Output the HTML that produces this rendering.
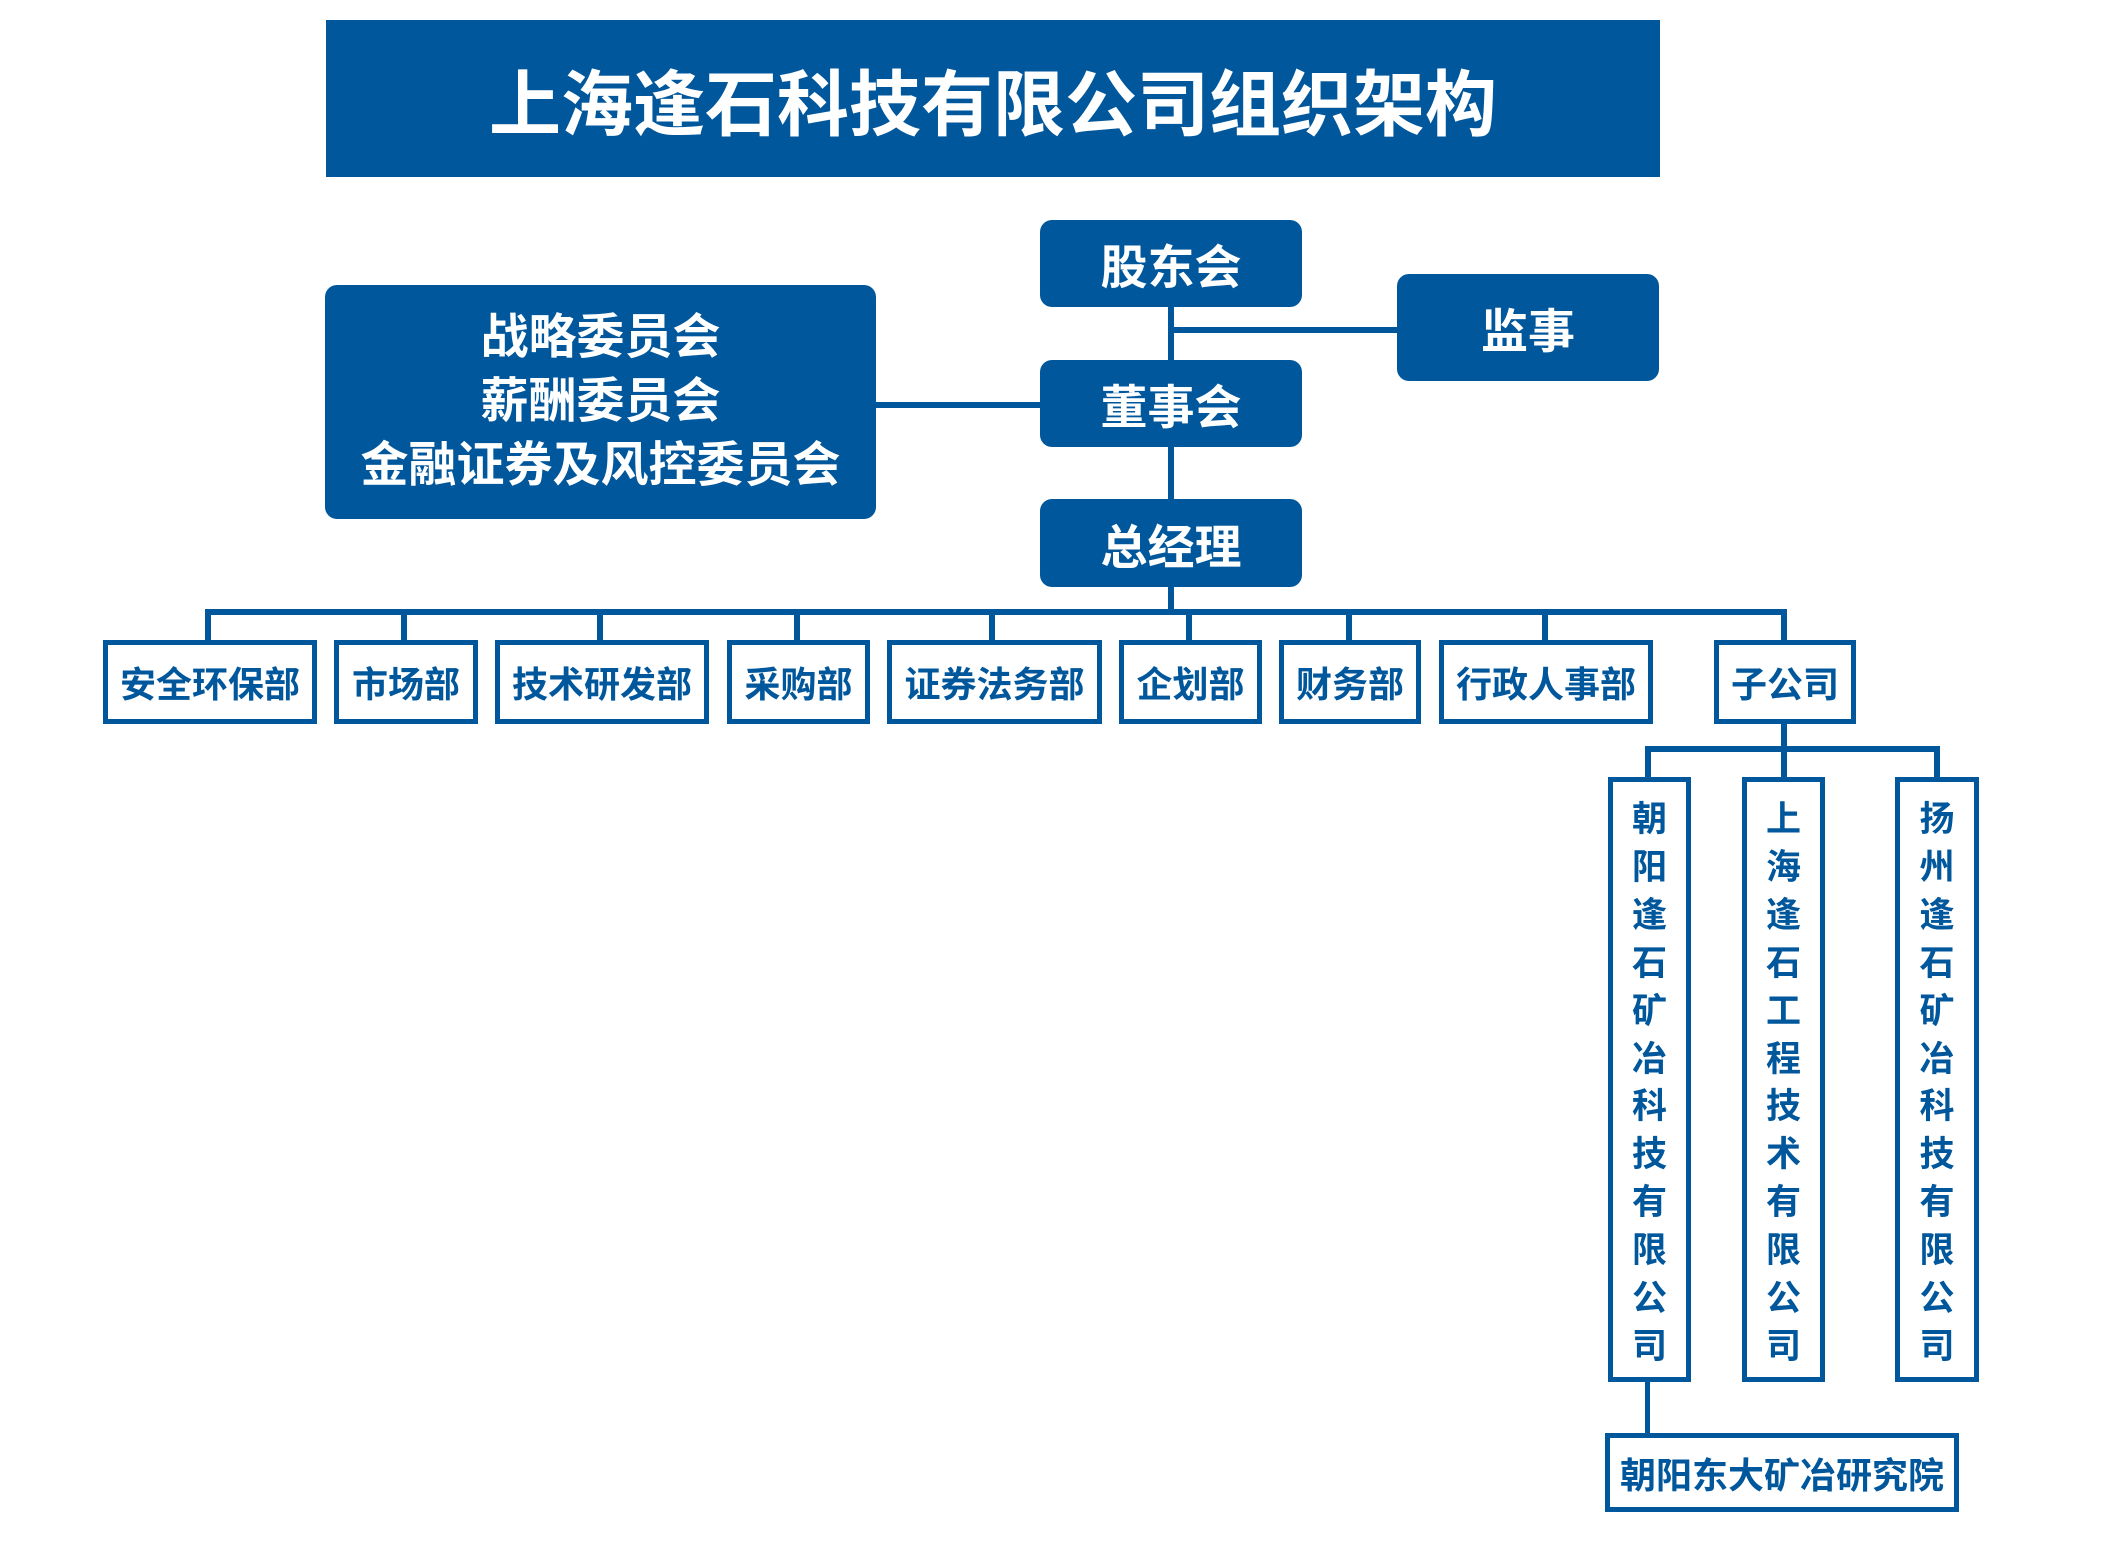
<!DOCTYPE html>
<html><head><meta charset="utf-8"><style>
body{margin:0;width:2104px;height:1549px;background:#fff;position:relative;overflow:hidden;font-family:"Liberation Sans","Noto Sans CJK SC",sans-serif;font-weight:bold}
.a{position:absolute;box-sizing:border-box;display:flex;align-items:center;justify-content:center;text-align:center}
.f{background:#00579c;color:#fff;border-radius:12px;font-size:47px}
.o{border:5px solid #00579c;color:#00579c;background:#fff;font-size:36px}
.l{position:absolute;background:#00579c}
.v{flex-direction:column;justify-content:flex-start;padding-top:14px;font-size:35px;line-height:47.9px}
</style></head><body>
<div class="a" style="left:326px;top:20px;width:1334px;height:157px;background:#00579c;color:#fff;font-size:72px;letter-spacing:0px">上海逢石科技有限公司组织架构</div>

<div class="l" style="left:1168px;top:300px;width:6px;height:315px"></div>
<div class="l" style="left:1171px;top:327px;width:230px;height:6px"></div>
<div class="l" style="left:870px;top:402px;width:175px;height:6px"></div>

<div class="a f" style="left:1040px;top:220px;width:262px;height:87px">股东会</div>
<div class="a f" style="left:1397px;top:274px;width:262px;height:107px">监事</div>
<div class="a f" style="left:325px;top:285px;width:551px;height:234px;font-size:48px;line-height:64px">战略委员会<br>薪酬委员会<br>金融证券及风控委员会</div>
<div class="a f" style="left:1040px;top:360px;width:262px;height:87px">董事会</div>
<div class="a f" style="left:1040px;top:499px;width:262px;height:88px">总经理</div>

<div class="l" style="left:205px;top:609px;width:1582px;height:6px"></div>
<div class="l" style="left:205px;top:612px;width:6px;height:30px"></div>
<div class="l" style="left:401px;top:612px;width:6px;height:30px"></div>
<div class="l" style="left:597px;top:612px;width:6px;height:30px"></div>
<div class="l" style="left:794px;top:612px;width:6px;height:30px"></div>
<div class="l" style="left:989px;top:612px;width:6px;height:30px"></div>
<div class="l" style="left:1186px;top:612px;width:6px;height:30px"></div>
<div class="l" style="left:1346px;top:612px;width:6px;height:30px"></div>
<div class="l" style="left:1542px;top:612px;width:6px;height:30px"></div>
<div class="l" style="left:1781px;top:612px;width:6px;height:30px"></div>

<div class="a o" style="left:103px;top:640px;width:214px;height:84px">安全环保部</div>
<div class="a o" style="left:334px;top:640px;width:144px;height:84px">市场部</div>
<div class="a o" style="left:495px;top:640px;width:214px;height:84px">技术研发部</div>
<div class="a o" style="left:727px;top:640px;width:143px;height:84px">采购部</div>
<div class="a o" style="left:887px;top:640px;width:215px;height:84px">证券法务部</div>
<div class="a o" style="left:1119px;top:640px;width:143px;height:84px">企划部</div>
<div class="a o" style="left:1279px;top:640px;width:142px;height:84px">财务部</div>
<div class="a o" style="left:1439px;top:640px;width:214px;height:84px">行政人事部</div>
<div class="a o" style="left:1714px;top:640px;width:142px;height:84px">子公司</div>

<div class="l" style="left:1781px;top:724px;width:6px;height:56px"></div>
<div class="l" style="left:1645px;top:746px;width:295px;height:6px"></div>
<div class="l" style="left:1645px;top:749px;width:6px;height:30px"></div>
<div class="l" style="left:1934px;top:749px;width:6px;height:30px"></div>
<div class="l" style="left:1645px;top:1380px;width:5px;height:55px"></div>

<div class="a o v" style="left:1608px;top:777px;width:83px;height:605px">朝<br>阳<br>逢<br>石<br>矿<br>冶<br>科<br>技<br>有<br>限<br>公<br>司</div>
<div class="a o v" style="left:1742px;top:777px;width:83px;height:605px">上<br>海<br>逢<br>石<br>工<br>程<br>技<br>术<br>有<br>限<br>公<br>司</div>
<div class="a o v" style="left:1895px;top:777px;width:84px;height:605px">扬<br>州<br>逢<br>石<br>矿<br>冶<br>科<br>技<br>有<br>限<br>公<br>司</div>

<div class="a o" style="left:1605px;top:1433px;width:354px;height:79px">朝阳东大矿冶研究院</div>
</body></html>
